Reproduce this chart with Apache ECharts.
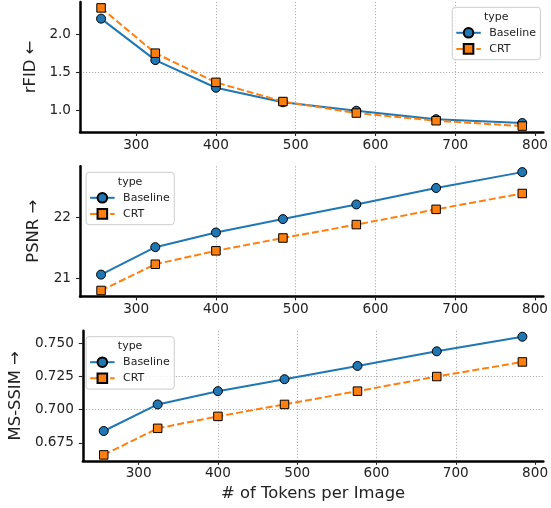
<!DOCTYPE html>
<html><head><meta charset="utf-8">
<script src="https://cdn.jsdelivr.net/npm/echarts@6/dist/echarts.min.js"></script>
<style>html,body{margin:0;padding:0;background:#fff}#c{width:551px;height:508px}</style>
</head><body><div id="c"></div>
<script>
// ---- data ----
const tokens = [256, 324, 400, 484, 576, 676, 784];
const xTicks = [300, 400, 500, 600, 700, 800];
const seriesNames = ['Baseline', 'CRT'];

const rfidBaseline = [2.20, 1.66, 1.30, 1.11, 1.00, 0.89, 0.84];
const rfidCRT      = [2.34, 1.75, 1.37, 1.12, 0.97, 0.87, 0.80];
const psnrBaseline = [21.06, 21.51, 21.75, 21.97, 22.21, 22.48, 22.74];
const psnrCRT      = [20.80, 21.23, 21.45, 21.66, 21.88, 22.13, 22.39];
const ssimBaseline = [0.684, 0.704, 0.714, 0.723, 0.733, 0.744, 0.755];
const ssimCRT      = [0.666, 0.686, 0.695, 0.704, 0.714, 0.725, 0.736];

const rfidTicks = [1.0, 1.5, 2.0];
const psnrTicks = [21, 22];
const ssimTicks = [0.675, 0.700, 0.725, 0.750];

const yNames = ['rFID \u2190', 'PSNR \u2192', 'MS-SSIM \u2192'];
const xName = '# of Tokens per Image';
const legendTitle = 'type';

// ---- layout / style ----
const FONT = 'DejaVu Sans';
const BLUE = '#1f77b4', ORANGE = '#ff7f0e';
const panels = [
  {b: rfidBaseline, c: rfidCRT, ticks: rfidTicks, dec: 1, name: yNames[0], top: 2, h: 130, nameGap: 37,
   legLeft: 452.3, legTop: 7.3},
  {b: psnrBaseline, c: psnrCRT, ticks: psnrTicks, dec: 0, name: yNames[1], top: 166.2, h: 130.2, nameGap: 38,
   legLeft: 86.1, legTop: 172.3},
  {b: ssimBaseline, c: ssimCRT, ticks: ssimTicks, dec: 3, name: yNames[2], top: 330.8, h: 130, nameGap: 56,
   legLeft: 86.1, legTop: 336.7}
];
function padExtent(vals) {
  const mn = Math.min.apply(null, vals), mx = Math.max.apply(null, vals);
  const s = mx - mn;
  return [mn - 0.05 * s, mx + 0.05 * s];
}
const xExt = padExtent(tokens);
const gridLine = {show: true, showMinLine: false, showMaxLine: false,
  lineStyle: {color: '#b0b0b0', width: 1, type: [1.2, 1.8]}};
const axisLineStyle = {show: true, onZero: false, lineStyle: {color: '#000', width: 2.5}};
const tickStyle = {show: true, length: 4, lineStyle: {color: '#222', width: 1.1}};

const grids = [], xAxes = [], yAxes = [], series = [], legends = [], graphics = [];
panels.forEach((p, i) => {
  grids.push({left: 80, right: 4, top: p.top, height: p.h});
  xAxes.push({
    type: 'value', gridIndex: i, min: xExt[0], max: xExt[1],
    axisLine: axisLineStyle,
    axisTick: Object.assign({customValues: xTicks}, tickStyle),
    axisLabel: {customValues: xTicks, margin: 6, fontSize: 13.6, fontFamily: FONT, color: '#222'},
    splitLine: gridLine,
    name: i === 2 ? xName : '', nameLocation: 'middle', nameGap: 25,
    nameTextStyle: {fontSize: 16.4, fontFamily: FONT, color: '#222'}
  });
  const ext = padExtent(p.b.concat(p.c));
  yAxes.push({
    type: 'value', gridIndex: i, min: ext[0], max: ext[1],
    axisLine: axisLineStyle,
    axisTick: Object.assign({customValues: p.ticks}, tickStyle),
    axisLabel: {customValues: p.ticks, margin: 9, fontSize: 13.6, fontFamily: FONT, color: '#222',
      formatter: v => Number(v).toFixed(p.dec)},
    splitLine: gridLine,
    name: p.name, nameLocation: 'middle', nameGap: p.nameGap,
    nameTextStyle: {fontSize: 16.4, fontFamily: FONT, color: '#222'}
  });
  series.push({
    name: seriesNames[0], type: 'line', xAxisIndex: i, yAxisIndex: i,
    data: tokens.map((t, k) => [t, p.b[k]]),
    symbol: 'circle', symbolSize: 9,
    itemStyle: {color: BLUE, borderColor: '#000', borderWidth: 1},
    lineStyle: {color: BLUE, width: 2}, z: 3
  });
  series.push({
    name: seriesNames[1], type: 'line', xAxisIndex: i, yAxisIndex: i,
    data: tokens.map((t, k) => [t, p.c[k]]),
    symbol: 'rect', symbolSize: 8.5,
    itemStyle: {color: ORANGE, borderColor: '#000', borderWidth: 1},
    lineStyle: {color: ORANGE, width: 2, type: [7, 3]}, z: 4
  });
  legends.push({
    data: seriesNames, orient: 'vertical', left: p.legLeft, top: p.legTop,
    itemWidth: 24.5, itemHeight: 12, itemGap: 4.5,
    padding: [19.7, 4.5, 5, 3],
    backgroundColor: 'rgba(255,255,255,0.8)', borderColor: '#cccccc', borderWidth: 1, borderRadius: 3,
    textStyle: {fontSize: 11, fontFamily: FONT, color: '#222', padding: [0, 0, 0, 3.5]},
    selectedMode: false, z: 10
  });
  graphics.push({
    type: 'text', x: p.legLeft + 44, y: p.legTop + 9.4, z: 100,
    style: {text: legendTitle, fontSize: 11, fontFamily: FONT, fill: '#222', align: 'center', verticalAlign: 'middle'}
  });
});

const chart = echarts.init(document.getElementById('c'), null, {renderer: 'canvas'});
chart.setOption({
  animation: false,
  backgroundColor: '#fff',
  grid: grids, xAxis: xAxes, yAxis: yAxes, series: series,
  legend: legends, graphic: graphics
});
</script></body></html>
